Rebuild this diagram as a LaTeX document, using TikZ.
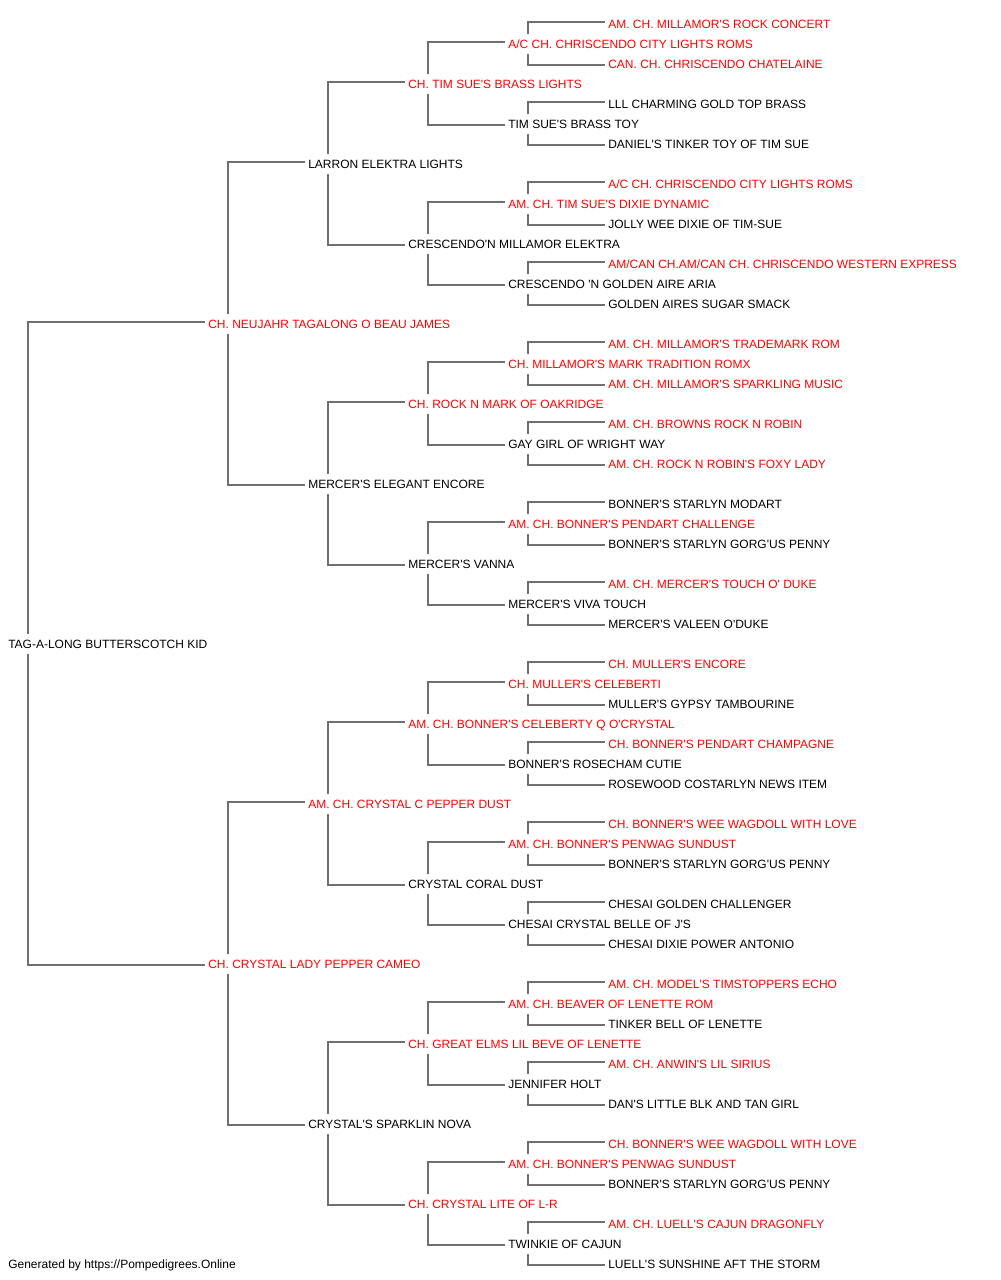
\documentclass[tikz,border=0pt]{standalone}
\usepackage{fontspec}
\setmainfont{Liberation Sans}[Ligatures=TeXOff]
\pgfdeclarelayer{bg}
\pgfsetlayers{bg,main}
\definecolor{lnk}{RGB}{112,112,112}
\definecolor{rd}{RGB}{255,0,0}
\tikzset{
 nm/.style={anchor=west, fill=white, inner xsep=2.25pt, inner ysep=3.9pt, text height=6.5pt, text depth=0pt, font=\fontsize{9pt}{11pt}\selectfont, text=black},
 rn/.style={nm, text=rd},
 link/.style={draw=lnk, line width=1pt},
}
\newcommand\brk[3]{\draw[link] ([yshift=1.5pt]#2.west) -| ([xshift=17.25pt]#1.west) |- ([yshift=-0.75pt]#3.west);}
\begin{document}
\begin{tikzpicture}[x=0.75pt,y=-0.75pt]
\useasboundingbox (0,0) rectangle (1000,1280);
% gen 0
\node[nm] (n31) at (5,644) {TAG-A-LONG BUTTERSCOTCH KID};
% gen 1
\node[rn] (n15) at (205,324) {CH. NEUJAHR TAGALONG O BEAU JAMES};
\node[rn] (n47) at (205,964) {CH. CRYSTAL LADY PEPPER CAMEO};
% gen 2
\node[nm] (n7) at (305,164) {LARRON ELEKTRA LIGHTS};
\node[nm] (n23) at (305,484) {MERCER'S ELEGANT ENCORE};
\node[rn] (n39) at (305,804) {AM. CH. CRYSTAL C PEPPER DUST};
\node[nm] (n55) at (305,1124) {CRYSTAL'S SPARKLIN NOVA};
% gen 3
\node[rn] (n3) at (405,84) {CH. TIM SUE'S BRASS LIGHTS};
\node[nm] (n11) at (405,244) {CRESCENDO'N MILLAMOR ELEKTRA};
\node[rn] (n19) at (405,404) {CH. ROCK N MARK OF OAKRIDGE};
\node[nm] (n27) at (405,564) {MERCER'S VANNA};
\node[rn] (n35) at (405,724) {AM. CH. BONNER'S CELEBERTY Q O'CRYSTAL};
\node[nm] (n43) at (405,884) {CRYSTAL CORAL DUST};
\node[rn] (n51) at (405,1044) {CH. GREAT ELMS LIL BEVE OF LENETTE};
\node[rn] (n59) at (405,1204) {CH. CRYSTAL LITE OF L-R};
% gen 4
\node[rn] (n1) at (505,44) {A/C CH. CHRISCENDO CITY LIGHTS ROMS};
\node[nm] (n5) at (505,124) {TIM SUE'S BRASS TOY};
\node[rn] (n9) at (505,204) {AM. CH. TIM SUE'S DIXIE DYNAMIC};
\node[nm] (n13) at (505,284) {CRESCENDO 'N GOLDEN AIRE ARIA};
\node[rn] (n17) at (505,364) {CH. MILLAMOR'S MARK TRADITION ROMX};
\node[nm] (n21) at (505,444) {GAY GIRL OF WRIGHT WAY};
\node[rn] (n25) at (505,524) {AM. CH. BONNER'S PENDART CHALLENGE};
\node[nm] (n29) at (505,604) {MERCER'S VIVA TOUCH};
\node[rn] (n33) at (505,684) {CH. MULLER'S CELEBERTI};
\node[nm] (n37) at (505,764) {BONNER'S ROSECHAM CUTIE};
\node[rn] (n41) at (505,844) {AM. CH. BONNER'S PENWAG SUNDUST};
\node[nm] (n45) at (505,924) {CHESAI CRYSTAL BELLE OF J'S};
\node[rn] (n49) at (505,1004) {AM. CH. BEAVER OF LENETTE ROM};
\node[nm] (n53) at (505,1084) {JENNIFER HOLT};
\node[rn] (n57) at (505,1164) {AM. CH. BONNER'S PENWAG SUNDUST};
\node[nm] (n61) at (505,1244) {TWINKIE OF CAJUN};
% gen 5
\node[rn] (n0) at (605,24) {AM. CH. MILLAMOR'S ROCK CONCERT};
\node[rn] (n2) at (605,64) {CAN. CH. CHRISCENDO CHATELAINE};
\node[nm] (n4) at (605,104) {LLL CHARMING GOLD TOP BRASS};
\node[nm] (n6) at (605,144) {DANIEL'S TINKER TOY OF TIM SUE};
\node[rn] (n8) at (605,184) {A/C CH. CHRISCENDO CITY LIGHTS ROMS};
\node[nm] (n10) at (605,224) {JOLLY WEE DIXIE OF TIM-SUE};
\node[rn] (n12) at (605,264) {AM/CAN CH.AM/CAN CH. CHRISCENDO WESTERN EXPRESS};
\node[nm] (n14) at (605,304) {GOLDEN AIRES SUGAR SMACK};
\node[rn] (n16) at (605,344) {AM. CH. MILLAMOR'S TRADEMARK ROM};
\node[rn] (n18) at (605,384) {AM. CH. MILLAMOR'S SPARKLING MUSIC};
\node[rn] (n20) at (605,424) {AM. CH. BROWNS ROCK N ROBIN};
\node[rn] (n22) at (605,464) {AM. CH. ROCK N ROBIN'S FOXY LADY};
\node[nm] (n24) at (605,504) {BONNER'S STARLYN MODART};
\node[nm] (n26) at (605,544) {BONNER'S STARLYN GORG'US PENNY};
\node[rn] (n28) at (605,584) {AM. CH. MERCER'S TOUCH O' DUKE};
\node[nm] (n30) at (605,624) {MERCER'S VALEEN O'DUKE};
\node[rn] (n32) at (605,664) {CH. MULLER'S ENCORE};
\node[nm] (n34) at (605,704) {MULLER'S GYPSY TAMBOURINE};
\node[rn] (n36) at (605,744) {CH. BONNER'S PENDART CHAMPAGNE};
\node[nm] (n38) at (605,784) {ROSEWOOD COSTARLYN NEWS ITEM};
\node[rn] (n40) at (605,824) {CH. BONNER'S WEE WAGDOLL WITH LOVE};
\node[nm] (n42) at (605,864) {BONNER'S STARLYN GORG'US PENNY};
\node[nm] (n44) at (605,904) {CHESAI GOLDEN CHALLENGER};
\node[nm] (n46) at (605,944) {CHESAI DIXIE POWER ANTONIO};
\node[rn] (n48) at (605,984) {AM. CH. MODEL'S TIMSTOPPERS ECHO};
\node[nm] (n50) at (605,1024) {TINKER BELL OF LENETTE};
\node[rn] (n52) at (605,1064) {AM. CH. ANWIN'S LIL SIRIUS};
\node[nm] (n54) at (605,1104) {DAN'S LITTLE BLK AND TAN GIRL};
\node[rn] (n56) at (605,1144) {CH. BONNER'S WEE WAGDOLL WITH LOVE};
\node[nm] (n58) at (605,1184) {BONNER'S STARLYN GORG'US PENNY};
\node[rn] (n60) at (605,1224) {AM. CH. LUELL'S CAJUN DRAGONFLY};
\node[nm] (n62) at (605,1264) {LUELL'S SUNSHINE AFT THE STORM};
% footer
\node[nm] (foot) at (5,1264) {Generated by https://Pompedigrees.Online};
% connectors
\begin{pgfonlayer}{bg}
\brk{n31}{n15}{n47}
\brk{n15}{n7}{n23}
\brk{n47}{n39}{n55}
\brk{n7}{n3}{n11}
\brk{n23}{n19}{n27}
\brk{n39}{n35}{n43}
\brk{n55}{n51}{n59}
\brk{n3}{n1}{n5}
\brk{n11}{n9}{n13}
\brk{n19}{n17}{n21}
\brk{n27}{n25}{n29}
\brk{n35}{n33}{n37}
\brk{n43}{n41}{n45}
\brk{n51}{n49}{n53}
\brk{n59}{n57}{n61}
\brk{n1}{n0}{n2}
\brk{n5}{n4}{n6}
\brk{n9}{n8}{n10}
\brk{n13}{n12}{n14}
\brk{n17}{n16}{n18}
\brk{n21}{n20}{n22}
\brk{n25}{n24}{n26}
\brk{n29}{n28}{n30}
\brk{n33}{n32}{n34}
\brk{n37}{n36}{n38}
\brk{n41}{n40}{n42}
\brk{n45}{n44}{n46}
\brk{n49}{n48}{n50}
\brk{n53}{n52}{n54}
\brk{n57}{n56}{n58}
\brk{n61}{n60}{n62}
\end{pgfonlayer}
\end{tikzpicture}
\end{document}
